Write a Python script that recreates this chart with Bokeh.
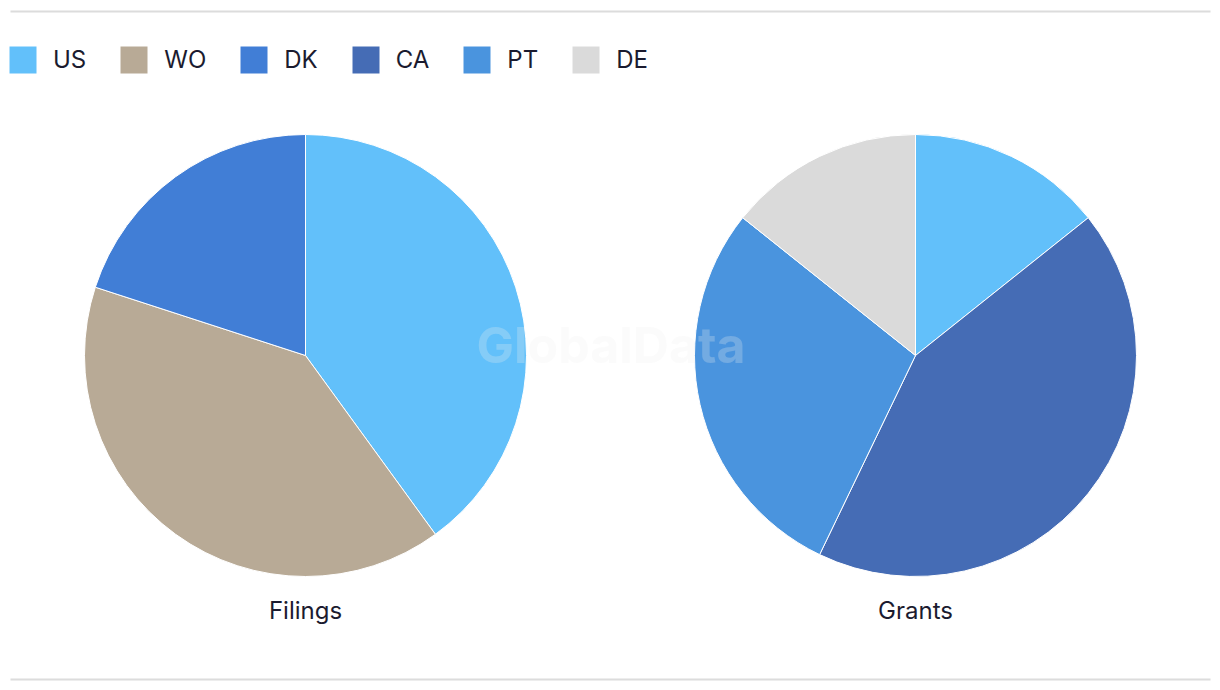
import math
from bokeh.plotting import figure
from bokeh.models import ColumnDataSource, Range1d, Legend, LegendItem
from bokeh.core.properties import value
from bokeh.embed import file_html
from bokeh.resources import INLINE

# ---- data ----
legend_order = ["US", "WO", "DK", "CA", "PT", "DE"]
colors = {"US": "#62c0fa", "WO": "#b8aa96", "DK": "#417ed6",
          "CA": "#456cb5", "PT": "#4a94de", "DE": "#dadada"}
filings_cats = ["US", "WO", "DK"]
filings_vals = [2, 2, 1]
grants_cats = ["US", "CA", "PT", "DE"]
grants_vals = [1, 3, 2, 1]
pie_titles = ["Filings", "Grants"]

W, H = 1220, 690
FONT = "Inter"
TXT = "#1b1b2f"

p = figure(width=W, height=H, output_backend="svg", toolbar_location=None,
           x_range=Range1d(0, W), y_range=Range1d(0, H), min_border=0)
p.axis.visible = False
p.grid.visible = False
p.outline_line_color = None
p.background_fill_color = "white"
p.border_fill_color = "white"

# separator lines
p.segment(x0=[10, 10], y0=[H - 11, 11], x1=[1210, 1210], y1=[H - 11, 11],
          line_color="#dcdcdc", line_width=2)

def pie_source(cats, vals, cx, cy):
    total = float(sum(vals))
    starts, ends = [], []
    acc = 0.0
    for v in vals:
        starts.append(math.pi / 2 - acc / total * 2 * math.pi)
        acc += v
        ends.append(math.pi / 2 - acc / total * 2 * math.pi)
    return ColumnDataSource(dict(x=[cx] * len(vals), y=[cy] * len(vals),
                                 start=starts, end=ends, cat=cats,
                                 color=[colors[c] for c in cats]))

R = 221
centers = [(305, H - 355), (915, H - 355)]
renderers = []
for (cats, vals), (cx, cy) in zip([(filings_cats, filings_vals), (grants_cats, grants_vals)], centers):
    src = pie_source(cats, vals, cx, cy)
    r = p.wedge(x="x", y="y", radius=R, radius_units="screen", start_angle="start",
                end_angle="end", direction="clock", fill_color="color",
                line_color="white", line_width=1, source=src)
    renderers.append((r, cats))

# pie titles
p.text(x=[c[0] for c in centers], y=[H - 610, H - 610], text=pie_titles,
       text_font=value(FONT), text_font_size="24px", text_color=TXT,
       text_align="center", text_baseline="alphabetic")

# watermark
p.text(x=[610.5], y=[H - 344], text=["GlobalData"], text_font=value(FONT),
       text_font_size="50px", text_font_style="bold", text_color="#eeeeee",
       text_alpha=0.25, text_align="center", text_baseline="alphabetic")

# legend
items = []
for cat in legend_order:
    for r, cats in renderers:
        if cat in cats:
            items.append(LegendItem(label=cat, renderers=[r], index=cats.index(cat)))
            break

legend = Legend(items=items, orientation="horizontal", location=(5, H - 76.5),
                glyph_width=35, glyph_height=35, label_standoff=13, spacing=30,
                padding=0, margin=0, label_height=35,
                label_text_font=FONT, label_text_font_size="24px",
                label_text_color=TXT, label_text_baseline="middle",
                border_line_alpha=0, background_fill_alpha=0)
p.add_layout(legend)

open("out.html", "w").write(file_html(p, INLINE))
